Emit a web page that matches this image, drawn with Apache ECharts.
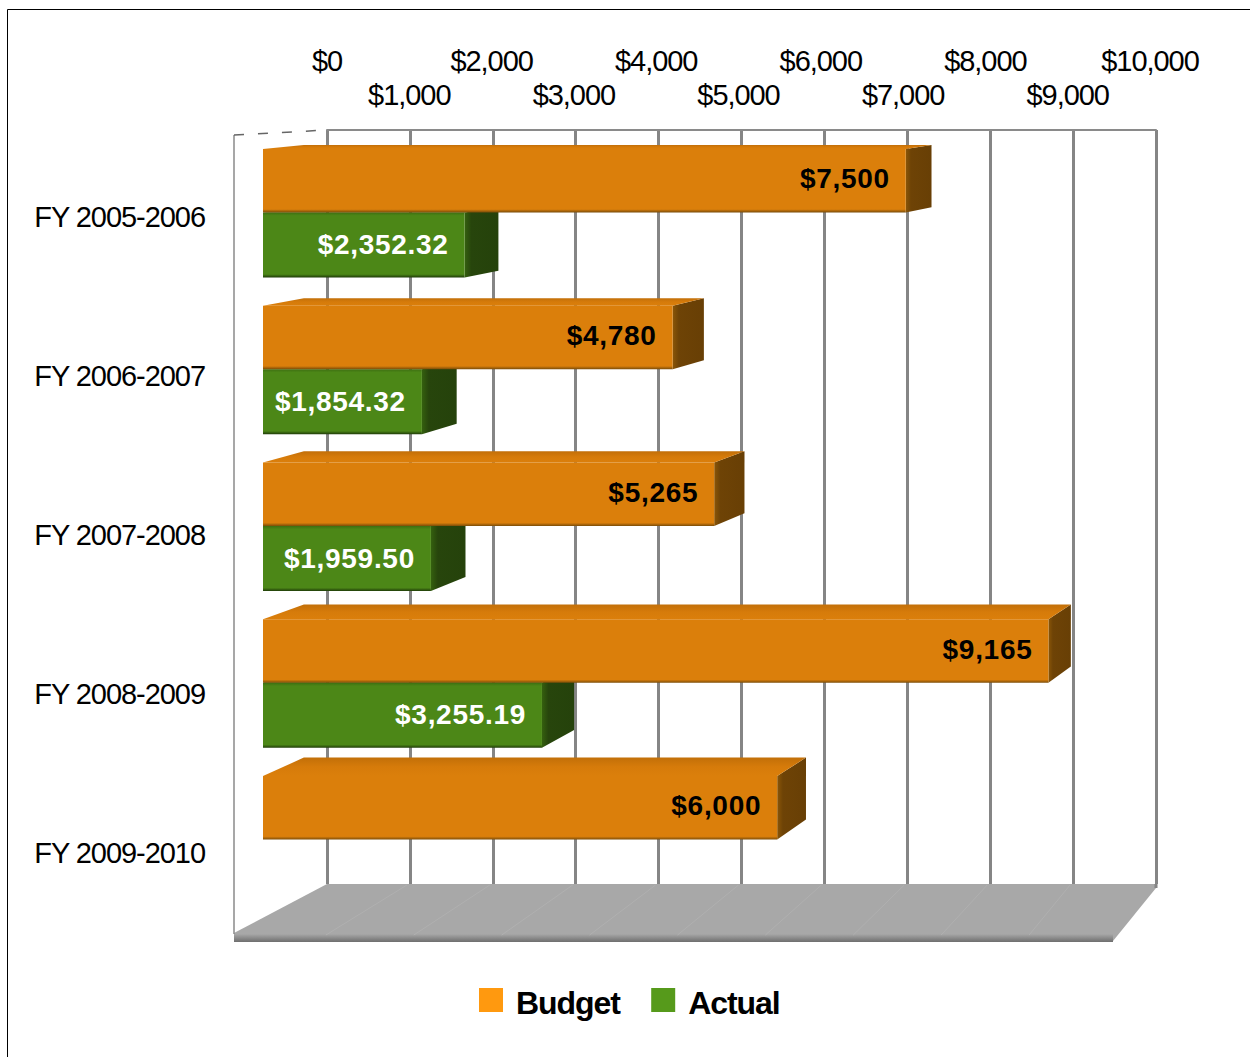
<!DOCTYPE html>
<html>
<head>
<meta charset="utf-8">
<title>Budget and actual by fiscal year</title>
<script src="https://cdn.jsdelivr.net/npm/echarts@6/dist/echarts.min.js"></script>
<style>
  html, body { margin: 0; padding: 0; background: #fff; overflow: hidden; }
  #chart { width: 1250px; height: 1057px; }
  /* Axis text is set tight; value labels slightly open; legend in between */
  #chart svg text { letter-spacing: -1.05px; }
  #chart svg text[style*="bold 28px"] { letter-spacing: 0.7px; }
  #chart svg text[style*="bold 32px"] { letter-spacing: -0.2px; }
</style>
</head>
<body>
<div id="chart"></div>
<script>
// Fiscal-year figures
const categories = ['FY 2005-2006', 'FY 2006-2007', 'FY 2007-2008', 'FY 2008-2009', 'FY 2009-2010'];
const budget = [7500, 4780, 5265, 9165, 6000];
const actual = [2352.32, 1854.32, 1959.5, 3255.19, null];
const tickLabels = ['$0', '$1,000', '$2,000', '$3,000', '$4,000', '$5,000', '$6,000', '$7,000', '$8,000', '$9,000', '$10,000'];
const tickValues = [0, 1000, 2000, 3000, 4000, 5000, 6000, 7000, 8000, 9000, 10000];

const FONT = '"Liberation Sans", Arial, sans-serif';

// Depth projection: a point on the front plane recedes toward a vanishing point.
const VANISH = [2002, -12];
const recede = (x, y, kx, ky) => [
  VANISH[0] + kx * (x - VANISH[0]),
  VANISH[1] + ky * (y - VANISH[1])
];

const vGrad = (stops) => ({
  type: 'linear', x: 0, y: 0, x2: 0, y2: 1,
  colorStops: stops.map(([offset, color]) => ({ offset, color }))
});
const hGrad = (stops) => ({
  type: 'linear', x: 0, y: 0, x2: 1, y2: 0,
  colorStops: stops.map(([offset, color]) => ({ offset, color }))
});

const barStyles = {
  Budget: {
    front: vGrad([[0, '#db7f0b'], [0.95, '#db7f0b'], [1, '#7a4c08']]),
    top: vGrad([[0, '#c26f08'], [0.5, '#d67b0a'], [1, '#db7f0b']]),
    side: hGrad([[0, '#8a5608'], [0.2, '#6e4306'], [1, '#683f05']]),
    label: '#000', thick: 0.405, depthX: 0.9765, labelDy: -2
  },
  Actual: {
    front: vGrad([[0, '#3d6e12'], [0.05, '#4c8717'], [0.95, '#4c8717'], [1, '#1e3a08']]),
    top: vGrad([[0, '#447a14'], [1, '#4c8717']]),
    side: hGrad([[0, '#35600f'], [0.2, '#27450c'], [1, '#25420b']]),
    label: '#fff', thick: 0.415, depthX: 0.978, labelDy: -0.5
  }
};

const money = (name, v) => '$' + v.toLocaleString('en-US',
  name === 'Actual' ? { minimumFractionDigits: 2, maximumFractionDigits: 2 } : {});

// One solid bar: front rectangle, receding top face and right-hand end face.
function barRenderer(name, above) {
  return function (params, api) {
    const value = api.value(0);
    const cat = api.value(1);
    const origin = api.coord([0, cat]);
    const end = api.coord([value, cat]);
    const s = barStyles[name];
    const h = api.size([0, 1])[1] * s.thick;
    const y0 = above ? origin[1] - h : origin[1];
    const y1 = y0 + h;
    const x0 = origin[0];
    const x1 = end[0];
    const ky = 0.9765;
    const bl = recede(x0, y0, s.depthX, ky), tr = recede(x1, y0, s.depthX, ky), br = recede(x1, y1, s.depthX, ky);
    return {
      type: 'group',
      children: [
        { type: 'polygon', shape: { points: [[x1, y0], tr, br, [x1, y1]] }, style: { fill: s.side } },
        { type: 'polygon', shape: { points: [[x0, y0], bl, tr, [x1, y0]] }, style: { fill: s.top } },
        { type: 'rect', shape: { x: x0, y: y0, width: x1 - x0, height: h }, style: { fill: s.front } },
        {
          type: 'text',
          style: {
            text: money(name, value),
            x: x1 - 16, y: (y0 + y1) / 2 + s.labelDy,
            align: 'right', verticalAlign: 'middle',
            fill: s.label, font: 'bold 28px ' + FONT
          }
        }
      ]
    };
  };
}

// Faint lines on the floor running from each gridline toward the viewer.
function floorLine(params, api) {
  const back = api.coord([api.value(0), 0]);
  const left = api.coord([0, 0])[0];
  const frontX = 234 + (back[0] - left) * (879 / 829);
  return {
    type: 'line',
    shape: { x1: back[0] - 3, y1: 885, x2: frontX + 4, y2: 935 },
    style: { stroke: '#b0b0b0', lineWidth: 1 }
  };
}

const pairs = (arr) => arr.map((v, i) => [v, i]).filter((d) => d[0] != null);

// Dollar ticks sit on two staggered rows: even thousands above, odd thousands below.
const tickRow = (interval, margin, extra, formatter) => ({
  gridIndex: 2, type: 'value', position: 'top', min: 0, max: 10000, interval,
  axisLine: { show: false }, axisTick: { show: false }, splitLine: { show: false },
  axisLabel: Object.assign({
    show: true, margin, color: '#000', fontFamily: FONT, fontSize: 29, lineHeight: 34,
    hideOverlap: false, formatter
  }, extra)
});
const tickText = (v) => tickLabels[tickValues.indexOf(v)];

const chart = echarts.init(document.getElementById('chart'), null, { renderer: 'svg' });
chart.setOption({
  animation: false,
  backgroundColor: '#fff',
  grid: [
    { left: 327, width: 829, top: 130, height: 754 },   // back wall
    { left: 263, width: 857, top: 134, height: 784 },   // front plane of the bars
    { left: 327, width: 823, top: 137, height: 795 }    // axis labels
  ],
  xAxis: [
    {
      gridIndex: 0, type: 'value', position: 'top', min: 0, max: 10000, interval: 1000,
      axisLine: { show: true, lineStyle: { color: '#8a8a8a', width: 2 } },
      axisTick: { show: false }, axisLabel: { show: false },
      splitLine: { show: true, lineStyle: { color: '#858585', width: 3 } }
    },
    {
      gridIndex: 1, type: 'value', min: 0, max: 10000, show: false, splitLine: { show: false }
    },
    tickRow(2000, 59, { showMinLabel: true, showMaxLabel: true }, tickText),
    tickRow(1000, 25, { showMinLabel: false, showMaxLabel: false },
      (v) => (v / 1000) % 2 === 1 ? tickText(v) : '')
  ],
  yAxis: [
    { gridIndex: 0, type: 'category', data: categories, inverse: true, show: false },
    { gridIndex: 1, type: 'category', data: categories, inverse: true, show: false },
    {
      gridIndex: 2, type: 'category', data: categories, inverse: true,
      axisLine: { show: false }, axisTick: { show: false }, splitLine: { show: false },
      axisLabel: { margin: 122, color: '#000', fontFamily: FONT, fontSize: 29 }
    }
  ],
  legend: {
    data: ['Budget', 'Actual'],
    left: 479, top: 987, padding: 0, icon: 'rect', itemWidth: 24, itemHeight: 24, itemGap: 25,
    formatter: (name) => '{t|' + name + '}',
    textStyle: {
      rich: {
        t: { color: '#000', fontFamily: FONT, fontWeight: 'bold', fontSize: 32, padding: [6, 0, 0, 8] }
      }
    }
  },
  graphic: [
    { type: 'polygon', z: 1, shape: { points: [[327, 884], [1156, 884], [1156, 888], [1113, 941], [234, 941], [234, 933]] },
      style: { fill: '#a8a8a8' } },
    { type: 'rect', z: 1, shape: { x: 234, y: 934, width: 879, height: 8 },
      style: { fill: vGrad([[0, '#a8a8a8'], [1, '#6e6e6e']]) } },
    { type: 'line', z: 1, shape: { x1: 234, y1: 135, x2: 234, y2: 934 }, style: { stroke: '#8a8a8a', lineWidth: 1.5 } },
    { type: 'line', z: 1, shape: { x1: 234, y1: 135, x2: 327, y2: 130 }, style: { stroke: '#666', lineWidth: 1.5, lineDash: [10, 14] } },
    { type: 'line', z: 1, shape: { x1: 1156, y1: 884, x2: 1156, y2: 888 }, style: { stroke: '#858585', lineWidth: 3 } },
    { type: 'line', z: 1, shape: { x1: 7.5, y1: 9.5, x2: 1250, y2: 9.5 }, style: { stroke: '#000', lineWidth: 1 } },
    { type: 'line', z: 1, shape: { x1: 7.5, y1: 9.5, x2: 7.5, y2: 1057 }, style: { stroke: '#000', lineWidth: 1 } }
  ],
  series: [
    {
      type: 'custom', name: 'floor', xAxisIndex: 0, yAxisIndex: 0, silent: true, z: 2,
      data: tickValues.slice(1, -1).map((v) => [v, 0]),
      renderItem: floorLine
    },
    {
      type: 'custom', name: 'Actual', xAxisIndex: 1, yAxisIndex: 1, z: 3,
      itemStyle: { color: '#569a1b' },
      encode: { x: 0, y: 1 },
      data: pairs(actual),
      renderItem: barRenderer('Actual', false)
    },
    {
      type: 'custom', name: 'Budget', xAxisIndex: 1, yAxisIndex: 1, z: 4,
      itemStyle: { color: '#ff990f' },
      encode: { x: 0, y: 1 },
      data: pairs(budget),
      renderItem: barRenderer('Budget', true)
    }
  ]
});
</script>
</body>
</html>
